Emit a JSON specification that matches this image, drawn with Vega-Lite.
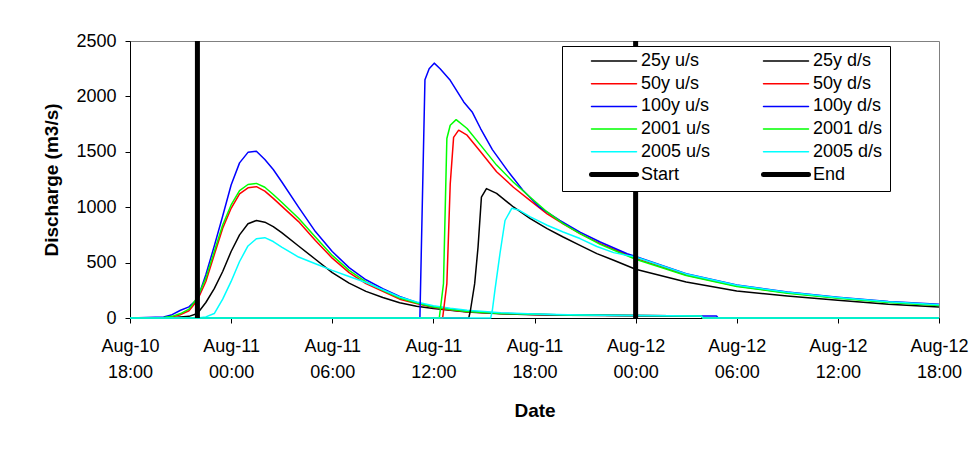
{
  "$schema": "https://vega.github.io/schema/vega-lite/v6.json",
  "width": 809,
  "height": 277,
  "autosize": "none",
  "padding": {"left": 130, "top": 41, "right": 37, "bottom": 134},
  "background": "white",
  "config": {
    "view": {"stroke": "#808080", "strokeWidth": 1},
    "axis": {
      "grid": false,
      "domainColor": "black",
      "tickColor": "black",
      "labelColor": "black",
      "titleColor": "black",
      "labelFont": "Liberation Sans",
      "titleFont": "Liberation Sans",
      "labelFontSize": 18,
      "titleFontSize": 19,
      "titleFontWeight": "bold",
      "tickSize": 5
    }
  },
  "datasets": {
    "us": [
      {"t": "2010-08-10T18:00", "25y u/s": 0, "50y u/s": 0, "100y u/s": 0, "2001 u/s": 0, "2005 u/s": 0},
      {"t": "2010-08-10T20:00", "25y u/s": 0, "50y u/s": 3, "100y u/s": 10, "2001 u/s": 5, "2005 u/s": 0},
      {"t": "2010-08-10T20:30", "25y u/s": 2, "50y u/s": 10, "100y u/s": 30, "2001 u/s": 15, "2005 u/s": 0},
      {"t": "2010-08-10T21:00", "25y u/s": 8, "50y u/s": 30, "100y u/s": 70, "2001 u/s": 40, "2005 u/s": 0},
      {"t": "2010-08-10T21:30", "25y u/s": 15, "50y u/s": 65, "100y u/s": 100, "2001 u/s": 80, "2005 u/s": 0},
      {"t": "2010-08-10T22:00", "25y u/s": 40, "50y u/s": 160, "100y u/s": 170, "2001 u/s": 185, "2005 u/s": 0},
      {"t": "2010-08-10T22:30", "25y u/s": 140, "50y u/s": 330, "100y u/s": 390, "2001 u/s": 360, "2005 u/s": 10},
      {"t": "2010-08-10T23:00", "25y u/s": 265, "50y u/s": 570, "100y u/s": 650, "2001 u/s": 600, "2005 u/s": 40},
      {"t": "2010-08-10T23:30", "25y u/s": 420, "50y u/s": 810, "100y u/s": 920, "2001 u/s": 840, "2005 u/s": 170},
      {"t": "2010-08-11T00:00", "25y u/s": 600, "50y u/s": 990, "100y u/s": 1200, "2001 u/s": 1020, "2005 u/s": 330},
      {"t": "2010-08-11T00:30", "25y u/s": 750, "50y u/s": 1120, "100y u/s": 1400, "2001 u/s": 1150, "2005 u/s": 510},
      {"t": "2010-08-11T01:00", "25y u/s": 850, "50y u/s": 1175, "100y u/s": 1495, "2001 u/s": 1205, "2005 u/s": 650},
      {"t": "2010-08-11T01:30", "25y u/s": 880, "50y u/s": 1185, "100y u/s": 1505, "2001 u/s": 1215, "2005 u/s": 715},
      {"t": "2010-08-11T02:00", "25y u/s": 865, "50y u/s": 1145, "100y u/s": 1430, "2001 u/s": 1180, "2005 u/s": 725},
      {"t": "2010-08-11T02:30", "25y u/s": 825, "50y u/s": 1080, "100y u/s": 1340, "2001 u/s": 1115, "2005 u/s": 690},
      {"t": "2010-08-11T03:00", "25y u/s": 770, "50y u/s": 1010, "100y u/s": 1230, "2001 u/s": 1045, "2005 u/s": 640},
      {"t": "2010-08-11T04:00", "25y u/s": 650, "50y u/s": 870, "100y u/s": 1000, "2001 u/s": 900, "2005 u/s": 550},
      {"t": "2010-08-11T05:00", "25y u/s": 530, "50y u/s": 700, "100y u/s": 780, "2001 u/s": 730, "2005 u/s": 490},
      {"t": "2010-08-11T06:00", "25y u/s": 410, "50y u/s": 540, "100y u/s": 600, "2001 u/s": 565, "2005 u/s": 430},
      {"t": "2010-08-11T07:00", "25y u/s": 315, "50y u/s": 410, "100y u/s": 455, "2001 u/s": 430, "2005 u/s": 375},
      {"t": "2010-08-11T08:00", "25y u/s": 240, "50y u/s": 310, "100y u/s": 345, "2001 u/s": 325, "2005 u/s": 320},
      {"t": "2010-08-11T09:00", "25y u/s": 185, "50y u/s": 240, "100y u/s": 265, "2001 u/s": 250, "2005 u/s": 255},
      {"t": "2010-08-11T10:00", "25y u/s": 137, "50y u/s": 170, "100y u/s": 195, "2001 u/s": 180, "2005 u/s": 190},
      {"t": "2010-08-11T11:00", "25y u/s": 106, "50y u/s": 130, "100y u/s": 140, "2001 u/s": 135, "2005 u/s": 145},
      {"t": "2010-08-11T12:00", "25y u/s": 85, "50y u/s": 95, "100y u/s": 100, "2001 u/s": 100, "2005 u/s": 110},
      {"t": "2010-08-11T13:00", "25y u/s": 70, "50y u/s": 72, "100y u/s": 78, "2001 u/s": 76, "2005 u/s": 88},
      {"t": "2010-08-11T14:00", "25y u/s": 55, "50y u/s": 56, "100y u/s": 60, "2001 u/s": 58, "2005 u/s": 70},
      {"t": "2010-08-11T16:00", "25y u/s": 38, "50y u/s": 40, "100y u/s": 42, "2001 u/s": 41, "2005 u/s": 48},
      {"t": "2010-08-11T18:00", "25y u/s": 30, "50y u/s": 32, "100y u/s": 34, "2001 u/s": 33, "2005 u/s": 36},
      {"t": "2010-08-11T20:00", "25y u/s": 25, "50y u/s": 27, "100y u/s": 28, "2001 u/s": 28, "2005 u/s": 29},
      {"t": "2010-08-11T22:00", "25y u/s": 22, "50y u/s": 24, "100y u/s": 25, "2001 u/s": 24, "2005 u/s": 25},
      {"t": "2010-08-12T00:00", "25y u/s": 20, "50y u/s": 22, "100y u/s": 23, "2001 u/s": 22, "2005 u/s": 22},
      {"t": "2010-08-12T02:00", "25y u/s": 18, "50y u/s": 20, "100y u/s": 21, "2001 u/s": 20, "2005 u/s": 20},
      {"t": "2010-08-12T03:54", "25y u/s": 17, "50y u/s": 18, "100y u/s": 19, "2001 u/s": 18, "2005 u/s": 18},
      {"t": "2010-08-12T04:00", "25y u/s": 0, "50y u/s": 0, "100y u/s": 18, "2001 u/s": 0, "2005 u/s": 0},
      {"t": "2010-08-12T04:48", "25y u/s": 0, "50y u/s": 0, "100y u/s": 17, "2001 u/s": 0, "2005 u/s": 0},
      {"t": "2010-08-12T04:54", "25y u/s": 0, "50y u/s": 0, "100y u/s": 0, "2001 u/s": 0, "2005 u/s": 0},
      {"t": "2010-08-12T18:00", "25y u/s": 0, "50y u/s": 0, "100y u/s": 0, "2001 u/s": 0, "2005 u/s": 0}
    ],
    "ds": [
      {"t": "2010-08-10T18:00", "s": "25y d/s", "q": 0},
      {"t": "2010-08-11T14:06", "s": "25y d/s", "q": 0},
      {"t": "2010-08-11T14:12", "s": "25y d/s", "q": 70},
      {"t": "2010-08-11T14:27", "s": "25y d/s", "q": 310},
      {"t": "2010-08-11T14:39", "s": "25y d/s", "q": 640},
      {"t": "2010-08-11T14:51", "s": "25y d/s", "q": 1090},
      {"t": "2010-08-11T15:09", "s": "25y d/s", "q": 1168},
      {"t": "2010-08-11T15:45", "s": "25y d/s", "q": 1125},
      {"t": "2010-08-11T16:45", "s": "25y d/s", "q": 1002},
      {"t": "2010-08-11T17:45", "s": "25y d/s", "q": 897},
      {"t": "2010-08-11T18:45", "s": "25y d/s", "q": 807},
      {"t": "2010-08-11T19:42", "s": "25y d/s", "q": 731},
      {"t": "2010-08-11T20:42", "s": "25y d/s", "q": 656},
      {"t": "2010-08-11T21:42", "s": "25y d/s", "q": 581},
      {"t": "2010-08-11T22:42", "s": "25y d/s", "q": 521},
      {"t": "2010-08-12T00:00", "s": "25y d/s", "q": 440},
      {"t": "2010-08-12T03:00", "s": "25y d/s", "q": 325},
      {"t": "2010-08-12T06:00", "s": "25y d/s", "q": 244},
      {"t": "2010-08-12T09:00", "s": "25y d/s", "q": 199},
      {"t": "2010-08-12T12:00", "s": "25y d/s", "q": 160},
      {"t": "2010-08-12T15:00", "s": "25y d/s", "q": 124},
      {"t": "2010-08-12T18:00", "s": "25y d/s", "q": 99},

      {"t": "2010-08-10T18:00", "s": "50y d/s", "q": 0},
      {"t": "2010-08-11T12:33", "s": "50y d/s", "q": 0},
      {"t": "2010-08-11T12:48", "s": "50y d/s", "q": 310},
      {"t": "2010-08-11T13:00", "s": "50y d/s", "q": 1210},
      {"t": "2010-08-11T13:12", "s": "50y d/s", "q": 1630},
      {"t": "2010-08-11T13:30", "s": "50y d/s", "q": 1695},
      {"t": "2010-08-11T14:00", "s": "50y d/s", "q": 1650},
      {"t": "2010-08-11T14:48", "s": "50y d/s", "q": 1500},
      {"t": "2010-08-11T15:45", "s": "50y d/s", "q": 1320},
      {"t": "2010-08-11T16:45", "s": "50y d/s", "q": 1180},
      {"t": "2010-08-11T17:45", "s": "50y d/s", "q": 1060},
      {"t": "2010-08-11T18:45", "s": "50y d/s", "q": 940},
      {"t": "2010-08-11T19:42", "s": "50y d/s", "q": 850},
      {"t": "2010-08-11T20:42", "s": "50y d/s", "q": 762},
      {"t": "2010-08-11T21:54", "s": "50y d/s", "q": 671},
      {"t": "2010-08-11T23:06", "s": "50y d/s", "q": 596},
      {"t": "2010-08-12T00:00", "s": "50y d/s", "q": 538},
      {"t": "2010-08-12T03:00", "s": "50y d/s", "q": 388},
      {"t": "2010-08-12T06:00", "s": "50y d/s", "q": 288},
      {"t": "2010-08-12T09:00", "s": "50y d/s", "q": 228},
      {"t": "2010-08-12T12:00", "s": "50y d/s", "q": 183},
      {"t": "2010-08-12T15:00", "s": "50y d/s", "q": 145},
      {"t": "2010-08-12T18:00", "s": "50y d/s", "q": 115},

      {"t": "2010-08-10T18:00", "s": "100y d/s", "q": 0},
      {"t": "2010-08-11T11:12", "s": "100y d/s", "q": 0},
      {"t": "2010-08-11T11:30", "s": "100y d/s", "q": 2150},
      {"t": "2010-08-11T11:45", "s": "100y d/s", "q": 2250},
      {"t": "2010-08-11T12:03", "s": "100y d/s", "q": 2300},
      {"t": "2010-08-11T12:24", "s": "100y d/s", "q": 2250},
      {"t": "2010-08-11T13:00", "s": "100y d/s", "q": 2145},
      {"t": "2010-08-11T13:48", "s": "100y d/s", "q": 1950},
      {"t": "2010-08-11T14:18", "s": "100y d/s", "q": 1860},
      {"t": "2010-08-11T14:48", "s": "100y d/s", "q": 1710},
      {"t": "2010-08-11T15:30", "s": "100y d/s", "q": 1520},
      {"t": "2010-08-11T16:24", "s": "100y d/s", "q": 1330},
      {"t": "2010-08-11T17:18", "s": "100y d/s", "q": 1155},
      {"t": "2010-08-11T18:18", "s": "100y d/s", "q": 1000},
      {"t": "2010-08-11T19:30", "s": "100y d/s", "q": 880},
      {"t": "2010-08-11T20:42", "s": "100y d/s", "q": 775},
      {"t": "2010-08-11T21:54", "s": "100y d/s", "q": 686},
      {"t": "2010-08-11T23:30", "s": "100y d/s", "q": 580},
      {"t": "2010-08-12T00:00", "s": "100y d/s", "q": 555},
      {"t": "2010-08-12T03:00", "s": "100y d/s", "q": 400},
      {"t": "2010-08-12T06:00", "s": "100y d/s", "q": 298},
      {"t": "2010-08-12T09:00", "s": "100y d/s", "q": 235},
      {"t": "2010-08-12T12:00", "s": "100y d/s", "q": 188},
      {"t": "2010-08-12T15:00", "s": "100y d/s", "q": 150},
      {"t": "2010-08-12T18:00", "s": "100y d/s", "q": 124},

      {"t": "2010-08-10T18:00", "s": "2001 d/s", "q": 0},
      {"t": "2010-08-11T12:21", "s": "2001 d/s", "q": 0},
      {"t": "2010-08-11T12:36", "s": "2001 d/s", "q": 310},
      {"t": "2010-08-11T12:48", "s": "2001 d/s", "q": 1620},
      {"t": "2010-08-11T13:00", "s": "2001 d/s", "q": 1740},
      {"t": "2010-08-11T13:21", "s": "2001 d/s", "q": 1790},
      {"t": "2010-08-11T14:00", "s": "2001 d/s", "q": 1710},
      {"t": "2010-08-11T14:48", "s": "2001 d/s", "q": 1560},
      {"t": "2010-08-11T15:45", "s": "2001 d/s", "q": 1380},
      {"t": "2010-08-11T16:45", "s": "2001 d/s", "q": 1225},
      {"t": "2010-08-11T17:45", "s": "2001 d/s", "q": 1090},
      {"t": "2010-08-11T18:45", "s": "2001 d/s", "q": 957},
      {"t": "2010-08-11T19:42", "s": "2001 d/s", "q": 852},
      {"t": "2010-08-11T20:42", "s": "2001 d/s", "q": 762},
      {"t": "2010-08-11T21:54", "s": "2001 d/s", "q": 665},
      {"t": "2010-08-11T23:06", "s": "2001 d/s", "q": 587},
      {"t": "2010-08-12T00:00", "s": "2001 d/s", "q": 530},
      {"t": "2010-08-12T03:00", "s": "2001 d/s", "q": 383},
      {"t": "2010-08-12T06:00", "s": "2001 d/s", "q": 284},
      {"t": "2010-08-12T09:00", "s": "2001 d/s", "q": 224},
      {"t": "2010-08-12T12:00", "s": "2001 d/s", "q": 179},
      {"t": "2010-08-12T15:00", "s": "2001 d/s", "q": 140},
      {"t": "2010-08-12T18:00", "s": "2001 d/s", "q": 112},

      {"t": "2010-08-10T18:00", "s": "2005 d/s", "q": 0},
      {"t": "2010-08-11T15:24", "s": "2005 d/s", "q": 0},
      {"t": "2010-08-11T15:30", "s": "2005 d/s", "q": 70},
      {"t": "2010-08-11T15:39", "s": "2005 d/s", "q": 250},
      {"t": "2010-08-11T15:57", "s": "2005 d/s", "q": 580},
      {"t": "2010-08-11T16:15", "s": "2005 d/s", "q": 880},
      {"t": "2010-08-11T16:39", "s": "2005 d/s", "q": 990},
      {"t": "2010-08-11T17:06", "s": "2005 d/s", "q": 972},
      {"t": "2010-08-11T17:45", "s": "2005 d/s", "q": 912},
      {"t": "2010-08-11T18:45", "s": "2005 d/s", "q": 837},
      {"t": "2010-08-11T19:42", "s": "2005 d/s", "q": 776},
      {"t": "2010-08-11T20:42", "s": "2005 d/s", "q": 717},
      {"t": "2010-08-11T21:42", "s": "2005 d/s", "q": 645},
      {"t": "2010-08-11T22:42", "s": "2005 d/s", "q": 590},
      {"t": "2010-08-12T00:00", "s": "2005 d/s", "q": 550},
      {"t": "2010-08-12T03:00", "s": "2005 d/s", "q": 398},
      {"t": "2010-08-12T06:00", "s": "2005 d/s", "q": 295},
      {"t": "2010-08-12T09:00", "s": "2005 d/s", "q": 233},
      {"t": "2010-08-12T12:00", "s": "2005 d/s", "q": 186},
      {"t": "2010-08-12T15:00", "s": "2005 d/s", "q": 147},
      {"t": "2010-08-12T18:00", "s": "2005 d/s", "q": 120}
    ],
    "ev": [
      {"t": "2010-08-10T22:00", "s": "Start"},
      {"t": "2010-08-12T00:00", "s": "End"}
    ]
  },
  "encoding": {
    "x": {
      "field": "t",
      "type": "temporal",
      "title": "Date",
      "scale": {
        "domain": [
          {"year": 2010, "month": 8, "date": 10, "hours": 18},
          {"year": 2010, "month": 8, "date": 12, "hours": 18}
        ],
        "nice": false
      },
      "axis": {
        "values": [
          {"year": 2010, "month": 8, "date": 10, "hours": 18},
          {"year": 2010, "month": 8, "date": 11, "hours": 0},
          {"year": 2010, "month": 8, "date": 11, "hours": 6},
          {"year": 2010, "month": 8, "date": 11, "hours": 12},
          {"year": 2010, "month": 8, "date": 11, "hours": 18},
          {"year": 2010, "month": 8, "date": 12, "hours": 0},
          {"year": 2010, "month": 8, "date": 12, "hours": 6},
          {"year": 2010, "month": 8, "date": 12, "hours": 12},
          {"year": 2010, "month": 8, "date": 12, "hours": 18}
        ],
        "labelExpr": "[timeFormat(datum.value, '%b-%d'), timeFormat(datum.value, '%H:%M')]",
        "labelAngle": 0,
        "labelLineHeight": 26,
        "labelPadding": 14,
        "labelFlush": false,
        "labelOverlap": false,
        "labelBound": false,
        "titlePadding": 20
      }
    },
    "color": {
      "field": "s",
      "type": "nominal",
      "scale": {
        "domain": ["25y u/s", "50y u/s", "100y u/s", "2001 u/s", "2005 u/s", "Start", "25y d/s", "50y d/s", "100y d/s", "2001 d/s", "2005 d/s", "End"],
        "range": ["#000000", "#ff0000", "#0000ff", "#00ff00", "#00ffff", "#000000", "#000000", "#ff0000", "#0000ff", "#00ff00", "#00ffff", "#000000"]
      },
      "legend": {
        "orient": "none",
        "legendX": 432,
        "legendY": 5,
        "columns": 2,
        "title": null,
        "symbolType": "stroke",
        "symbolSize": 2025,
        "clipHeight": 16,
        "rowPadding": 4.7,
        "columnPadding": 30,
        "labelFont": "Liberation Sans",
        "labelFontSize": 18,
        "labelColor": "black",
        "labelOffset": 18,
        "symbolOffset": 36,
        "padding": 7,
        "strokeColor": "black",
        "fillColor": "white",
        "encode": {
          "symbols": {
            "update": {
              "strokeCap": {"value": "round"},
              "strokeWidth": {"signal": "indexof(['Start','End'], datum.value) >= 0 ? 5 : 1.5"}
            }
          }
        }
      }
    }
  },
  "layer": [
    {
      "data": {"name": "us"},
      "transform": [{"fold": ["25y u/s", "50y u/s", "100y u/s", "2001 u/s", "2005 u/s"], "as": ["s", "q"]}],
      "mark": {"type": "line", "strokeWidth": 1.5, "strokeJoin": "round"},
      "encoding": {
        "y": {
          "field": "q",
          "type": "quantitative",
          "title": "Discharge (m3/s)",
          "scale": {"domain": [0, 2500], "nice": false},
          "axis": {"values": [0, 500, 1000, 1500, 2000, 2500], "format": "d", "labelPadding": 9, "titlePadding": 14}
        }
      }
    },
    {
      "data": {"name": "ds"},
      "mark": {"type": "line", "strokeWidth": 1.5, "strokeJoin": "round"},
      "encoding": {
        "y": {"field": "q", "type": "quantitative"}
      }
    },
    {
      "data": {"name": "ev"},
      "mark": {"type": "rule", "strokeWidth": 5},
      "encoding": {}
    }
  ]
}
